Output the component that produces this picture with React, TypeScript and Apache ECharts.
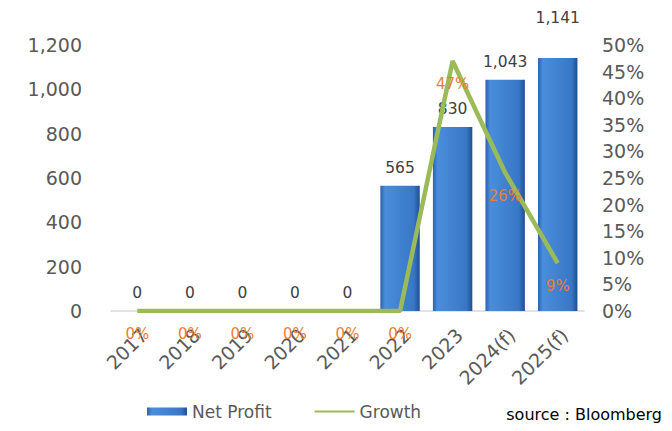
import React, { useEffect, useRef } from "react";
import * as echarts from "echarts";

const categories = ["2017", "2018", "2019", "2020", "2021", "2022", "2023", "2024(f)", "2025(f)"];
const netProfit = [0, 0, 0, 0, 0, 565, 830, 1043, 1141];
const growth = [0, 0, 0, 0, 0, 0, 47, 26, 9];
const seriesNames = ["Net Profit", "Growth"];
const sourceText = "source : Bloomberg";

const FONT = "DejaVu Sans";

export default function App() {
  const ref = useRef<HTMLDivElement>(null);
  useEffect(() => {
    if (!ref.current) return;
    const chart = echarts.init(ref.current, undefined, { renderer: "svg" });
    const barColor = new echarts.graphic.LinearGradient(0, 0, 1, 0, [
      { offset: 0, color: "#2a62ad" },
      { offset: 0.12, color: "#4a8edb" },
      { offset: 0.85, color: "#3877c6" },
      { offset: 1, color: "#1f4f8f" },
    ]);
    chart.setOption({
      animation: false,
      grid: { left: 111, right: 88, top: 45, bottom: 120, containLabel: false },
      legend: {
        left: 142,
        top: 398,
        itemWidth: 40,
        itemHeight: 8,
        itemGap: 42,
        textStyle: { fontFamily: FONT, fontSize: 17, color: "#595959" },
        data: [
          { name: seriesNames[0], icon: "rect" },
          { name: seriesNames[1] },
        ],
      },
      graphic: [
        {
          type: "text",
          right: 10,
          top: 406,
          style: { text: sourceText, font: "16px 'DejaVu Sans'", fill: "#000" },
        },
      ],
      xAxis: {
        type: "category",
        data: categories,
        axisLine: { show: true, lineStyle: { color: "#d9d9d9", width: 1.5 } },
        axisTick: { show: false },
        axisLabel: {
          rotate: 45,
          interval: 0,
          margin: 14,
          verticalAlign: "top",
          fontFamily: FONT,
          fontSize: 19,
          color: "#595959",
        },
      },
      yAxis: [
        {
          type: "value",
          min: 0,
          max: 1200,
          interval: 200,
          splitLine: { show: false },
          axisLine: { show: false },
          axisTick: { show: false },
          axisLabel: {
            margin: 29,
            fontFamily: FONT,
            fontSize: 19,
            color: "#595959",
            formatter: (v: number) => v.toLocaleString("en-US"),
          },
        },
        {
          type: "value",
          min: 0,
          max: 50,
          interval: 5,
          splitLine: { show: false },
          axisLine: { show: false },
          axisTick: { show: false },
          axisLabel: {
            margin: 18,
            fontFamily: FONT,
            fontSize: 19,
            color: "#595959",
            formatter: "{value}%",
          },
        },
      ],
      series: [
        {
          name: seriesNames[0],
          type: "bar",
          yAxisIndex: 0,
          barCategoryGap: "25%",
          data: netProfit.map((v, i) =>
            i === netProfit.length - 1 ? { value: v, label: { distance: 32 } } : v
          ),
          itemStyle: { color: barColor, borderWidth: 0 },
          label: {
            show: true,
            position: "top",
            distance: 10,
            fontFamily: FONT,
            fontSize: 15.5,
            color: "#404040",
            formatter: (p: any) => Number(p.value).toLocaleString("en-US"),
          },
        },
        {
          name: seriesNames[1],
          type: "line",
          yAxisIndex: 1,
          data: growth,
          symbol: "circle",
          symbolSize: 1,
          showSymbol: true,
          lineStyle: { color: "#9bbb59", width: 4.5 },
          itemStyle: { color: "rgba(0,0,0,0)", borderWidth: 0 },
          labelLayout: { hideOverlap: false },
          label: {
            show: true,
            position: "bottom",
            distance: 15,
            fontFamily: FONT,
            fontSize: 15,
            color: "#ed7d31",
            formatter: "{c}%",
          },
          z: 3,
        },
      ],
    });
    return () => chart.dispose();
  }, []);
  return <div ref={ref} style={{ width: 672, height: 431, position: "absolute", left: 0, top: 0 }} />;
}
